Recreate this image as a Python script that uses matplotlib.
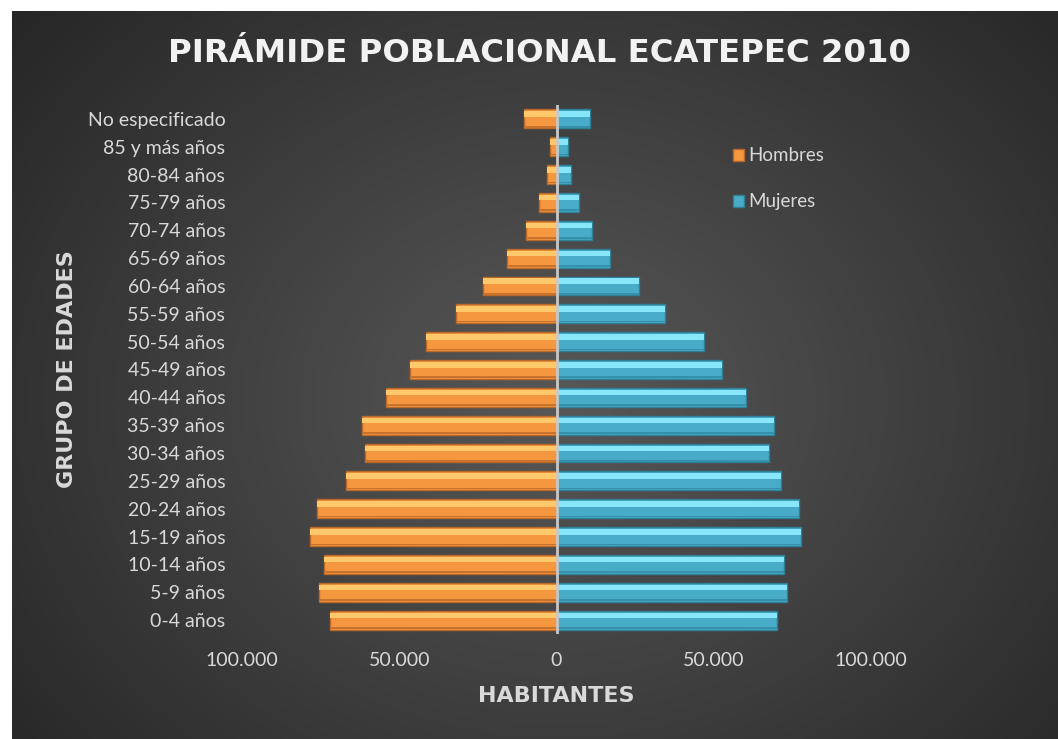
import numpy as np
import matplotlib
matplotlib.use("Agg")
import matplotlib.pyplot as plt
from matplotlib.patches import Patch

# age groups bottom -> top
grupos = ["0-4 años", "5-9 años", "10-14 años", "15-19 años", "20-24 años",
          "25-29 años", "30-34 años", "35-39 años", "40-44 años", "45-49 años",
          "50-54 años", "55-59 años", "60-64 años", "65-69 años", "70-74 años",
          "75-79 años", "80-84 años", "85 y más años", "No especificado"]
hombres = [71900, 75400, 73800, 78300, 76000, 67000, 61000, 61900, 54200, 46600,
           41400, 31900, 23500, 15600, 9800, 5600, 3100, 2000, 10400]
mujeres = [70200, 73400, 72400, 77600, 77000, 71500, 67600, 69200, 60300, 52600,
           46900, 34500, 26200, 16900, 11400, 7300, 4500, 3700, 10500]
ticks = [-100000, -50000, 0, 50000, 100000]
tick_labels = ["100.000", "50.000", "0", "50.000", "100.000"]

txt = "#d9d9d9"
lab_font = ["Lato", "DejaVu Sans"]

W, H = 1058, 739
fig = plt.figure(figsize=(W/100, H/100), dpi=100)
fig.patch.set_facecolor("white")

# dark radial-gradient background
bg = fig.add_axes([12/W, 0, 1 - 12/W, 728/H])
yy, xx = np.mgrid[0:728, 0:1046]
d = np.sqrt(((xx - 545) / 620.0) ** 2 + ((yy - 390) / 520.0) ** 2)
shade = np.clip(0.345 - 0.17 * d, 0.15, 0.35)
bg.imshow(np.dstack([shade] * 3), aspect="auto", extent=[0, 1, 0, 1])
bg.axis("off")

ax = fig.add_axes([242/W, 105/H, 629/W, 529/H])
ax.set_facecolor("none")
y = np.arange(len(grupos))
neg = -np.array(hombres)
pos = np.array(mujeres)
h = 0.68

# orange bars (hombres) with bevel look
ax.barh(y, neg, height=h, color="#f5973f", edgecolor="#b8692a", linewidth=1, zorder=2)
ax.barh(y + 0.17, neg, height=0.2, color="#ffc86a", linewidth=0, zorder=3)
ax.barh(y - 0.28, neg, height=0.06, color="#c8722e", linewidth=0, zorder=3)
# cyan bars (mujeres)
ax.barh(y, pos, height=h, color="#48acc8", edgecolor="#2f7f96", linewidth=1, zorder=2)
ax.barh(y + 0.17, pos, height=0.2, color="#88e6fa", linewidth=0, zorder=3)
ax.barh(y - 0.28, pos, height=0.06, color="#3591ab", linewidth=0, zorder=3)

ax.axvline(0, color="#c8c8c8", lw=2, zorder=4)

ax.set_xlim(-100000, 100000)
ax.set_ylim(-0.5, len(grupos) - 0.5)
ax.set_xticks(ticks)
ax.set_xticklabels(tick_labels)
ax.set_yticks(y)
ax.set_yticklabels(grupos)
for s in ax.spines.values():
    s.set_visible(False)
ax.tick_params(axis="both", length=0, colors=txt, labelsize=14)
ax.tick_params(axis="y", pad=12)
ax.tick_params(axis="x", pad=13)
for t in ax.get_xticklabels() + ax.get_yticklabels():
    t.set_family(lab_font)

ax.set_xlabel("HABITANTES", color=txt, fontsize=16, fontweight="heavy",
              family="DejaVu Sans", labelpad=12)
ax.set_ylabel("GRUPO DE EDADES", color=txt, fontsize=16, fontweight="heavy",
              family="DejaVu Sans")
ax.yaxis.set_label_coords(-0.262, 0.5)

fig.text(540/W, 1 - 53/H, "PIRÁMIDE POBLACIONAL ECATEPEC 2010", color="#f2f2f2",
         fontsize=23.3, fontweight="heavy", family="DejaVu Sans",
         ha="center", va="center")

handles = [Patch(facecolor="#f5973f", edgecolor="#b8692a", label="Hombres"),
           Patch(facecolor="#48acc8", edgecolor="#2f7f96", label="Mujeres")]
leg = ax.legend(handles=handles, loc="upper left", bbox_to_anchor=(0.753, 0.952),
                frameon=False, labelspacing=1.55, handlelength=0.6, handleheight=0.6,
                handletextpad=0.25, prop={"family": lab_font, "size": 13.5})
for t in leg.get_texts():
    t.set_color(txt)

fig.savefig("out.png", dpi=100, facecolor=fig.get_facecolor())
